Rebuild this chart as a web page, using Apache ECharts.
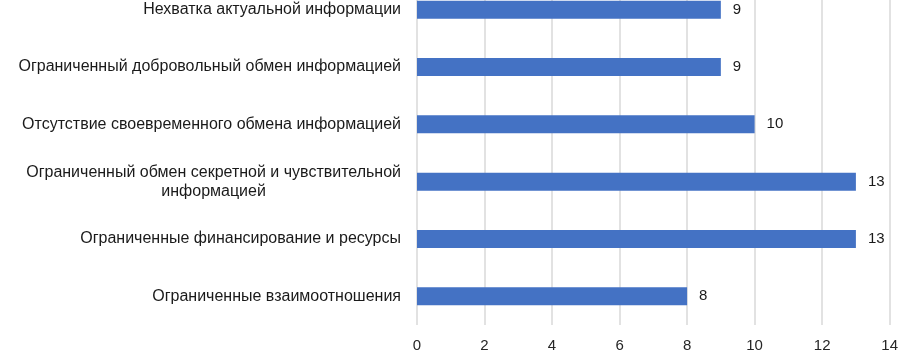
<html>
<head>
<meta charset="utf-8">
<script src="https://cdn.jsdelivr.net/npm/echarts@6/dist/echarts.min.js"></script>
<style>
  html, body { margin: 0; padding: 0; background: #fff; overflow: hidden; }
  /* plot area starts above the visible window, as in the reference crop */
  #main { width: 901px; height: 373px; margin-top: -20px; }
</style>
</head>
<body>
<div id="main"></div>
<script>
// categories listed bottom-to-top (category axis on y goes upward)
var categories = [
    'Ограниченные взаимоотношения',
    'Ограниченные финансирование и ресурсы',
    'Ограниченный обмен секретной и чувствительной\nинформацией',
    'Отсутствие своевременного обмена информацией',
    'Ограниченный добровольный обмен информацией',
    'Нехватка актуальной информации'
];
var values = [8, 13, 13, 10, 9, 9];
var xTicks = [0, 14, 2];  // min, max, step

var chart = echarts.init(document.getElementById('main'));

chart.setOption({
    animation: false,
    grid: { left: 417, right: 8, top: 1, bottom: 25 },
    xAxis: {
        type: 'value',
        min: xTicks[0],
        max: xTicks[1],
        interval: xTicks[2],
        axisLine: { show: false },
        axisTick: { show: false },
        axisLabel: {
            margin: 13,
            fontFamily: 'Liberation Sans',
            fontSize: 15,
            color: '#262626'
        },
        splitLine: { lineStyle: { color: '#d9d9d9', width: 1.5 } }
    },
    yAxis: {
        type: 'category',
        data: categories,
        axisLine: { show: false },
        axisTick: { show: false },
        axisLabel: {
            margin: 16,
            fontFamily: 'Liberation Sans',
            fontSize: 16,
            color: '#1a1a1a',
            lineHeight: 19,
            formatter: function (v) {
                return v.split('\n').map(function (s) { return '{c|' + s + '}'; }).join('\n');
            },
            rich: {
                c: { align: 'center', fontFamily: 'Liberation Sans', fontSize: 16, color: '#1a1a1a', lineHeight: 19 }
            }
        }
    },
    series: [{
        type: 'bar',
        data: values,
        barWidth: 18,
        itemStyle: { color: '#4472c4' },
        label: {
            show: true,
            position: 'right',
            distance: 12,
            fontFamily: 'Liberation Sans',
            fontSize: 15,
            color: '#1a1a1a'
        }
    }]
});
</script>
</body>
</html>
